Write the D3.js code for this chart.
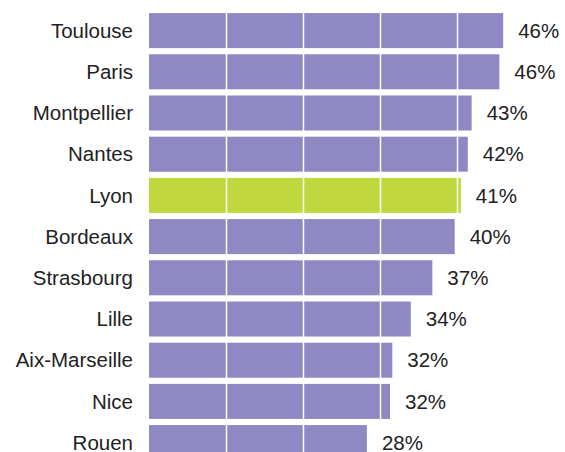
<!DOCTYPE html>
<html>
<head>
<meta charset="utf-8">
<script src="https://cdn.jsdelivr.net/npm/d3@7"></script>
<style>
  body { margin: 0; background: #fff; }
  text { font-family: "Liberation Sans", Arial, sans-serif; }
</style>
</head>
<body>
<div id="chart"></div>
<script>
// data
const cities = ["Toulouse", "Paris", "Montpellier", "Nantes", "Lyon", "Bordeaux",
                "Strasbourg", "Lille", "Aix-Marseille", "Nice", "Rouen"]
const values = [46.0, 45.5, 41.9, 41.4, 40.5, 39.7, 36.8, 34.0, 31.6, 31.3, 28.3]
const labels = ["46%", "46%", "43%", "42%", "41%", "40%", "37%", "34%", "32%", "32%", "28%"]
const highlight = "Lyon"
const gridTicks = [10, 20, 30, 40]

const width = 565
const height = 452

const data = cities.map((c, i) => ({city: c, value: values[i], label: labels[i]}))

const svg = d3.select("#chart").append("svg")
  .attr("width", width)
  .attr("height", height)

const x = d3.scaleLinear()
  .domain([0, 10])
  .range([149, 226])

const y = d3.scaleBand()
  .domain(cities)
  .range([10, 10 + 11 * 41.2])
  .paddingInner(0.15)
  .paddingOuter(0.075)

svg.selectAll(".bar")
  .data(data)
  .enter().append("rect")
  .attr("class", "bar")
  .attr("x", x(0))
  .attr("y", d => y(d.city))
  .attr("width", d => x(d.value) - x(0))
  .attr("height", y.bandwidth())
  .attr("fill", d => d.city == highlight ? "#c0d83e" : "#8e89c2")

// white grid lines on top of the bars
svg.selectAll(".grid")
  .data(gridTicks)
  .enter().append("line")
  .attr("x1", d => Math.round(x(d)) + 0.5)
  .attr("x2", d => Math.round(x(d)) + 0.5)
  .attr("y1", 0)
  .attr("y2", height)
  .attr("stroke", "#fff")
  .attr("stroke-width", 1.5)

svg.selectAll(".city")
  .data(data)
  .enter().append("text")
  .attr("x", 133)
  .attr("y", d => y(d.city) + y.bandwidth() / 2)
  .attr("dy", "0.35em")
  .attr("text-anchor", "end")
  .attr("font-size", 20.5)
  .attr("fill", "#222")
  .text(d => d.city)

svg.selectAll(".val")
  .data(data)
  .enter().append("text")
  .attr("x", d => x(d.value) + 15)
  .attr("y", d => y(d.city) + y.bandwidth() / 2)
  .attr("dy", "0.35em")
  .attr("font-size", 20.5)
  .attr("fill", "#222")
  .text(d => d.label)
</script>
</body>
</html>
